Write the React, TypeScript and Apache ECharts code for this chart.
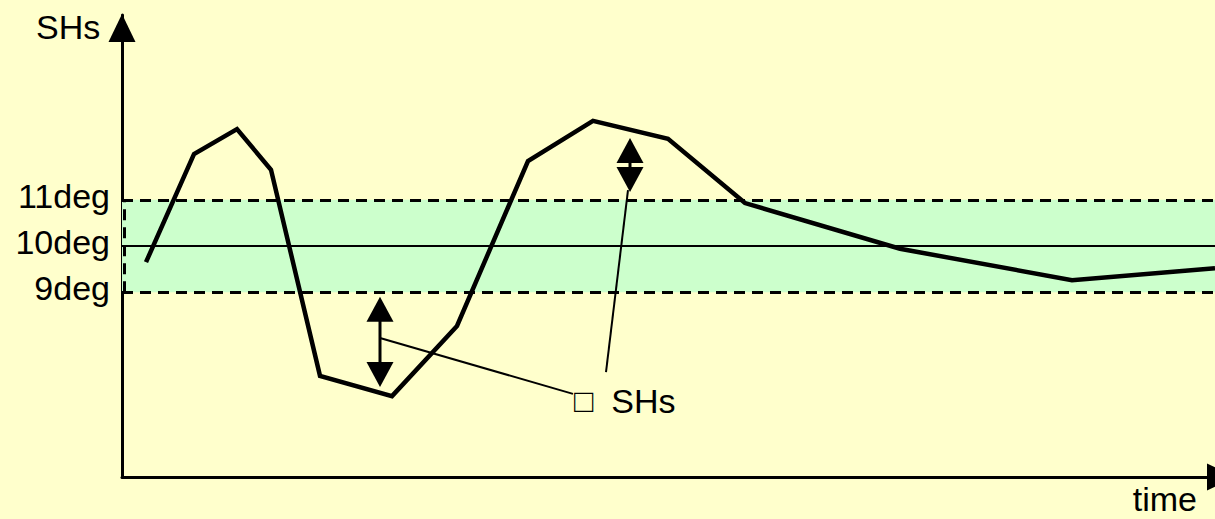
import React, { useEffect, useRef } from "react";
import * as echarts from "echarts";

// main curve: [time, SHs (deg)]
const curveTimes = [24, 72, 115, 149, 198, 270, 335, 406, 471, 546, 623, 778, 950, 1093];
const curveValues = [9.65, 11.99, 12.53, 11.65, 7.19, 6.75, 8.27, 11.84, 12.71, 12.32, 10.93, 9.94, 9.26, 9.52];

// band limits
const bandLow = 9;
const bandMid = 10;
const bandHigh = 11;

// y tick labels
const yTickValues = [9, 10, 11];
const yTickLabels = ["9deg", "10deg", "11deg"];

// double arrows: [time, top tip, bottom tip]
const arrowTimes = [258, 508];
const arrowTops = [8.9, 12.34];
const arrowBottoms = [6.95, 11.17];

// leader lines: [x1, y1, x2, y2]
const leaderStartX = [258, 506];
const leaderStartY = [8.01, 11.21];
const leaderEndX = [451, 484];
const leaderEndY = [6.8, 7.27];

const axisName = "SHs";
const timeName = "time";
const annotationBox = "□";
const annotationName = "SHs";

const FONT = "Liberation Sans, Arial, sans-serif";

export default function App() {
  const ref = useRef<HTMLDivElement>(null);

  useEffect(() => {
    if (!ref.current) return;
    const chart = echarts.init(ref.current, null, { renderer: "svg" });

    const curveData = curveTimes.map((t, i) => [t, curveValues[i]]);
    const arrowData = arrowTimes.map((t, i) => [t, arrowTops[i], arrowBottoms[i]]);
    const leaderData = leaderStartX.map((x, i) => [x, leaderStartY[i], leaderEndX[i], leaderEndY[i]]);

    const dashed = { color: "#000", width: 3, type: [11, 7] as any };

    chart.setOption({
      animation: false,
      backgroundColor: "#FFFFCC",
      grid: { left: 122, right: 0, top: 15, bottom: 42 },
      xAxis: {
        type: "value",
        min: 0,
        max: 1093,
        axisLine: {
          show: true,
          lineStyle: { color: "#000", width: 3 },
          symbol: ["none", "triangle"],
          symbolSize: [27, 28],
          symbolOffset: [0, 6],
        },
        axisTick: { show: false },
        axisLabel: { show: false },
        splitLine: { show: false },
      },
      yAxis: {
        type: "value",
        min: 5,
        max: 15,
        interval: 1,
        axisLine: {
          show: true,
          lineStyle: { color: "#000", width: 3 },
          symbol: ["none", "triangle"],
          symbolSize: [27, 28],
          symbolOffset: [0, -13],
        },
        axisTick: { show: false },
        splitLine: { show: false },
        axisLabel: {
          color: "#000",
          fontSize: 34,
          fontFamily: FONT,
          margin: 12,
          verticalAlign: "bottom",
          lineHeight: 8,
          formatter: (v: number) => {
            const idx = yTickValues.indexOf(v);
            return idx >= 0 ? yTickLabels[idx] : "";
          },
        },
      },
      series: [
        {
          type: "line",
          data: curveData,
          showSymbol: false,
          symbol: "none",
          lineStyle: { color: "#000", width: 4.5, join: "miter" },
          z: 5,
          markArea: {
            silent: true,
            itemStyle: { color: "#CCFFCC" },
            data: [[{ yAxis: bandLow }, { yAxis: bandHigh }]],
          },
          markLine: {
            silent: true,
            symbol: ["none", "none"],
            label: { show: false },
            data: [
              { yAxis: bandLow, lineStyle: dashed },
              { yAxis: bandHigh, lineStyle: dashed },
              { yAxis: bandMid, lineStyle: { color: "#000", width: 2, type: "solid" } },
              [
                { coord: [2, bandLow], lineStyle: dashed },
                { coord: [2, bandHigh] },
              ],
            ],
          },
        },
        {
          type: "custom",
          data: leaderData,
          z: 6,
          renderItem: (params: any, api: any) => {
            const p1 = api.coord([api.value(0), api.value(1)]);
            const p2 = api.coord([api.value(2), api.value(3)]);
            return {
              type: "line",
              shape: { x1: p1[0], y1: p1[1], x2: p2[0], y2: p2[1] },
              style: { stroke: "#000", lineWidth: 2 },
            };
          },
        },
        {
          type: "custom",
          data: arrowData,
          z: 7,
          renderItem: (params: any, api: any) => {
            const top = api.coord([api.value(0), api.value(1)]);
            const bot = api.coord([api.value(0), api.value(2)]);
            const w = 13.5;
            const h = 25;
            return {
              type: "group",
              children: [
                {
                  type: "line",
                  shape: { x1: top[0], y1: top[1] + 5, x2: bot[0], y2: bot[1] - 5 },
                  style: { stroke: "#000", lineWidth: 3 },
                },
                {
                  type: "polygon",
                  shape: {
                    points: [
                      [top[0], top[1]],
                      [top[0] - w, top[1] + h],
                      [top[0] + w, top[1] + h],
                    ],
                  },
                  style: { fill: "#000" },
                },
                {
                  type: "polygon",
                  shape: {
                    points: [
                      [bot[0], bot[1]],
                      [bot[0] - w, bot[1] - h],
                      [bot[0] + w, bot[1] - h],
                    ],
                  },
                  style: { fill: "#000" },
                },
              ],
            };
          },
        },
      ],
      graphic: [
        {
          type: "text",
          left: 36,
          top: 10,
          style: { text: axisName, fontSize: 34, fontFamily: FONT, fill: "#000" },
        },
        {
          type: "text",
          right: 18,
          top: 482,
          style: { text: timeName, fontSize: 34, fontFamily: FONT, fill: "#000" },
        },
        {
          type: "text",
          left: 574,
          top: 384,
          style: {
            text: "{b|" + annotationBox + "}" + annotationName,
            fontSize: 34,
            fontFamily: FONT,
            fill: "#000",
            rich: {
              b: { fontSize: 32, fontFamily: FONT, fill: "#000", padding: [0, 18, 0, 0] },
            },
          },
        },
      ],
    });

    return () => chart.dispose();
  }, []);

  return (
    <div
      ref={ref}
      style={{ position: "absolute", left: 0, top: 0, width: 1215, height: 519 }}
    />
  );
}
